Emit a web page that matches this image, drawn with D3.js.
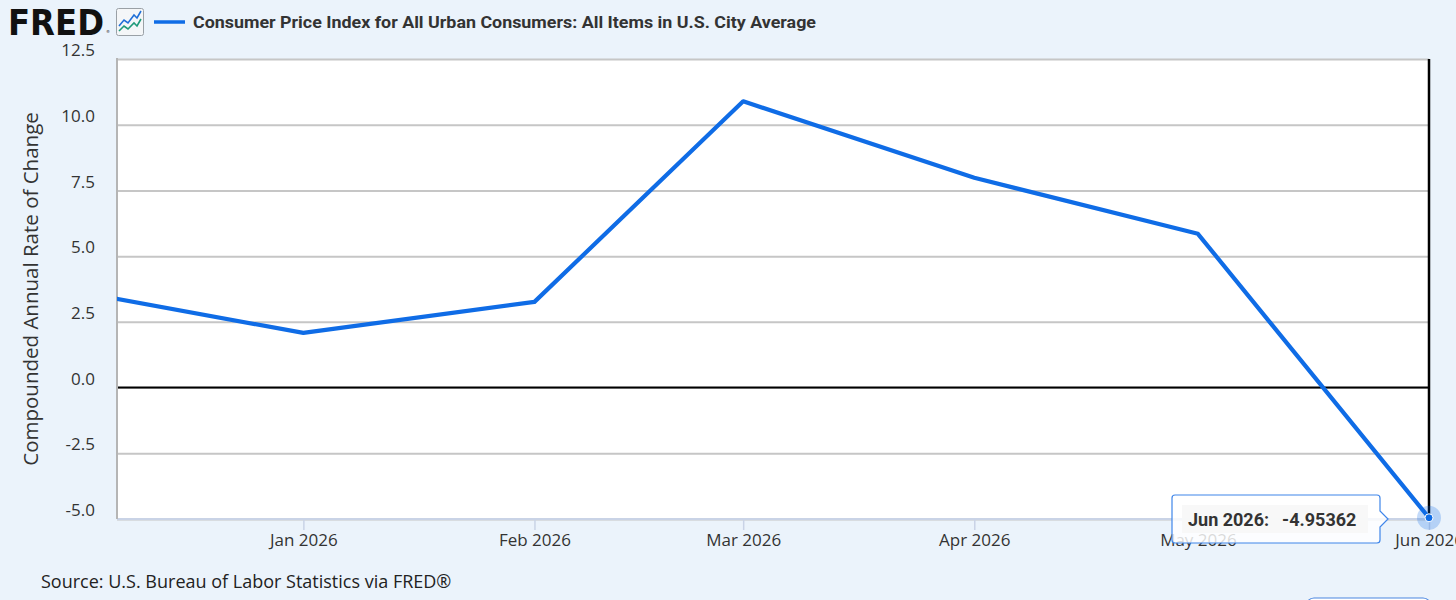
<!DOCTYPE html>
<html>
<head>
<meta charset="utf-8">
<script src="https://cdn.jsdelivr.net/npm/d3@7"></script>
<style>
  html, body { margin: 0; padding: 0; background: #ebf3fb; overflow: hidden; }
  svg { display: block; }
</style>
</head>
<body>
<div id="chart"></div>
<script>
// data
const months = ["2025-12-01", "2026-01-01", "2026-02-01", "2026-03-01", "2026-04-01", "2026-05-01", "2026-06-01"];
const values = [3.68, 2.08, 3.26, 10.89, 7.98, 5.85, -4.95362];
const yTicks = [-5, -2.5, 0, 2.5, 5, 7.5, 10, 12.5];
const xTickMonths = ["2026-01-01", "2026-02-01", "2026-03-01", "2026-04-01", "2026-05-01", "2026-06-01"];
const title = "Consumer Price Index for All Urban Consumers: All Items in U.S. City Average";
const yTitle = "Compounded Annual Rate of Change";
const source = "Source: U.S. Bureau of Labor Statistics via FRED®";

const W = 1456, H = 600;
const margin = {top: 59, right: 27, bottom: 81, left: 117};
const parse = d3.timeParse("%Y-%m-%d");
const data = months.map((m, i) => ({date: parse(m), value: values[i]}));
// plain hyphen for negatives, like the original
const fmt = d => d3.format(".1f")(d).replace("−", "-");

const svg = d3.select("#chart").append("svg")
    .attr("width", W)
    .attr("height", H);

const x = d3.scaleTime()
    .domain([new Date(2025, 11, 7), parse("2026-06-01")])
    .range([margin.left, W - margin.right]);

const y = d3.scaleLinear()
    .domain([-5, 12.5])
    .range([H - margin.bottom, margin.top]);

// plot background
svg.append("rect")
    .attr("x", margin.left)
    .attr("y", margin.top)
    .attr("width", x.range()[1] - margin.left)
    .attr("height", y(-5) - margin.top)
    .attr("fill", "#fff");

// gridlines
svg.append("g")
    .attr("transform", `translate(${margin.left},0)`)
    .call(d3.axisLeft(y).tickValues(yTicks).tickSize(-(x.range()[1] - margin.left)).tickFormat(""))
    .call(g => g.select(".domain").remove())
    .call(g => g.selectAll("line").attr("stroke", "#c6c6c6").attr("stroke-width", 2));

// zero line
svg.append("line")
    .attr("x1", margin.left).attr("x2", x.range()[1])
    .attr("y1", y(0)).attr("y2", y(0))
    .attr("stroke", "#000").attr("stroke-width", 2);

// y tick labels
svg.append("g")
    .attr("transform", `translate(${margin.left - 19},0)`)
    .call(d3.axisLeft(y).tickValues(yTicks).tickSize(0).tickFormat(fmt))
    .call(g => g.select(".domain").remove())
    .call(g => g.selectAll("text")
        .attr("dy", "-0.2em")
        .attr("fill", "#333")
        .style("font-family", "'Open Sans'")
        .style("font-size", "17px"));

// x axis
svg.append("g")
    .attr("transform", `translate(0,${y(-5)})`)
    .call(d3.axisBottom(x).tickValues(xTickMonths.map(parse)).tickSize(11).tickPadding(4).tickFormat(d3.timeFormat("%b %Y")))
    .call(g => g.select(".domain").attr("stroke", "#c9d3e6").attr("stroke-width", 2)
        .attr("d", `M${margin.left},0H${x.range()[1]}`))
    .call(g => g.selectAll(".tick line").attr("stroke", "#c9d3e6").attr("stroke-width", 1.5))
    .call(g => g.selectAll("text")
        .attr("fill", "#333")
        .style("font-family", "'Open Sans'")
        .style("font-size", "17px"));

// left axis line
svg.append("line")
    .attr("x1", margin.left).attr("x2", margin.left)
    .attr("y1", margin.top - 1).attr("y2", y(-5))
    .attr("stroke", "#b5b5b5").attr("stroke-width", 2);

// right black line
svg.append("line")
    .attr("x1", x.range()[1]).attr("x2", x.range()[1])
    .attr("y1", margin.top).attr("y2", y(-5))
    .attr("stroke", "#000").attr("stroke-width", 2.5);

// series
svg.append("clipPath").attr("id", "clip")
    .append("rect")
    .attr("x", margin.left).attr("y", 0)
    .attr("width", x.range()[1] - margin.left + 20).attr("height", H);

const line = d3.line().x(d => x(d.date)).y(d => y(d.value));

svg.append("path")
    .datum(data)
    .attr("clip-path", "url(#clip)")
    .attr("fill", "none")
    .attr("stroke", "#0f6ce6")
    .attr("stroke-width", 4.2)
    .attr("stroke-linejoin", "round")
    .attr("d", line);

// y axis title
svg.append("text")
    .attr("transform", `translate(38,${(margin.top + y(-5)) / 2}) rotate(-90)`)
    .attr("text-anchor", "middle")
    .attr("fill", "#333")
    .style("font-family", "'Open Sans'")
    .style("font-size", "20.5px")
    .text(yTitle);

// header: logo
svg.append("text")
    .attr("x", 8).attr("y", 35)
    .attr("textLength", 96)
    .attr("lengthAdjust", "spacingAndGlyphs")
    .attr("fill", "#111")
    .style("font-family", "'DejaVu Sans'")
    .style("font-weight", "bold")
    .style("font-size", "36px")
    .text("FRED");
svg.append("text")
    .attr("x", 106).attr("y", 33)
    .attr("fill", "#111")
    .style("font-family", "'DejaVu Sans'")
    .style("font-size", "4px")
    .text("®");

// logo icon
const icon = svg.append("g").attr("transform", "translate(116,8)");
icon.append("rect")
    .attr("x", 0.5).attr("y", 0.5).attr("width", 27).attr("height", 27).attr("rx", 2)
    .attr("fill", "#f4f6f8").attr("stroke", "#9aa0a6");
icon.append("path")
    .attr("d", "M3,18 L8,12 L12,15 L18,7 L21,10 L25,3")
    .attr("fill", "none").attr("stroke", "#1f6fd8").attr("stroke-width", 1.6);
icon.append("path")
    .attr("d", "M3,23 L8,18 L12,21 L18,15 L21,18 L25,11")
    .attr("fill", "none").attr("stroke", "#1f9a7a").attr("stroke-width", 1.6);

// legend line + title
svg.append("line")
    .attr("x1", 154).attr("x2", 185).attr("y1", 22).attr("y2", 22)
    .attr("stroke", "#0f6ce6").attr("stroke-width", 3.5);
svg.append("text")
    .attr("x", 193).attr("y", 28)
    .attr("textLength", 623)
    .attr("lengthAdjust", "spacingAndGlyphs")
    .attr("fill", "#333")
    .style("font-family", "Roboto")
    .style("font-weight", "bold")
    .style("font-size", "16.5px")
    .text(title);

// source
svg.append("text")
    .attr("x", 41).attr("y", 588)
    .attr("fill", "#222")
    .style("font-family", "'Open Sans'")
    .style("font-size", "18px")
    .text(source);

// partial button at the bottom right
svg.append("rect")
    .attr("x", 1306).attr("y", 598).attr("width", 125).attr("height", 30).attr("rx", 8)
    .attr("fill", "#fff").attr("stroke", "#4a86e0").attr("stroke-width", 1.2);

// hovered point marker
const last = data[data.length - 1];
svg.append("circle")
    .attr("cx", x(last.date)).attr("cy", y(last.value)).attr("r", 12)
    .attr("fill", "#0f6ce6").attr("fill-opacity", 0.25);
svg.append("circle")
    .attr("cx", x(last.date)).attr("cy", y(last.value)).attr("r", 4)
    .attr("fill", "#0f6ce6").attr("stroke", "#fff").attr("stroke-width", 1);

// tooltip
const tx = 1172, ty = 495, tw = 208, th = 48;
const tip = svg.append("g");
tip.append("path")
    .attr("d", `M${tx + 3},${ty} H${tx + tw - 3} Q${tx + tw},${ty} ${tx + tw},${ty + 3}
        V${ty + th / 2 - 8} L${tx + tw + 8},${ty + th / 2} L${tx + tw},${ty + th / 2 + 8}
        V${ty + th - 3} Q${tx + tw},${ty + th} ${tx + tw - 3},${ty + th} H${tx + 3}
        Q${tx},${ty + th} ${tx},${ty + th - 3} V${ty + 3} Q${tx},${ty} ${tx + 3},${ty} Z`)
    .attr("fill", "#fff").attr("fill-opacity", 0.82)
    .attr("stroke", "#3f86ea").attr("stroke-width", 1.2);
tip.append("rect")
    .attr("x", tx + 10).attr("y", ty + 10).attr("width", 186).attr("height", 28)
    .attr("fill", "#f7f7f7").attr("fill-opacity", 0.9);
const tipText = tip.append("text")
    .attr("x", tx + 16).attr("y", ty + 31)
    .attr("fill", "#333")
    .style("font-family", "Roboto")
    .style("font-weight", "bold")
    .style("font-size", "18px");
tipText.append("tspan").text(d3.timeFormat("%b %Y")(last.date) + ":");
tipText.append("tspan").attr("dx", 13).text(last.value);
</script>
</body>
</html>
